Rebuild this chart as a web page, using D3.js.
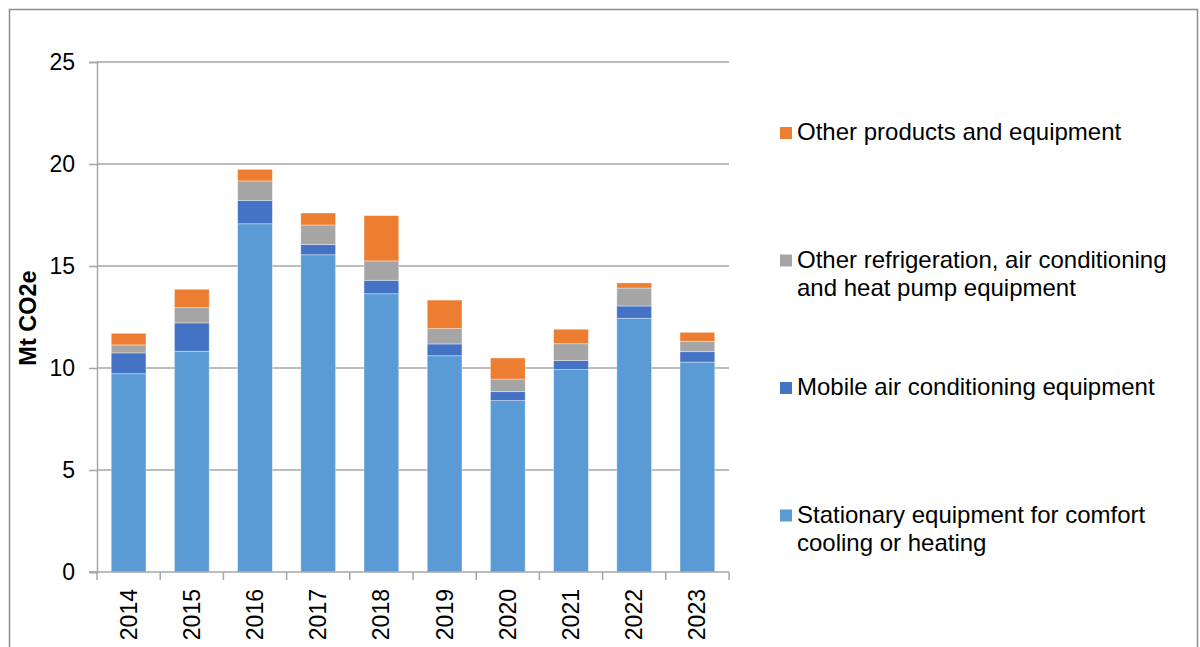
<!DOCTYPE html>
<html>
<head>
<meta charset="utf-8">
<script src="https://cdn.jsdelivr.net/npm/d3@7"></script>
<style>
  body { margin: 0; background: #fff; }
  text { font-family: "Liberation Sans", Arial, sans-serif; }
</style>
</head>
<body>
<div id="chart"></div>
<script>
// data (Mt CO2e)
const years = ["2014", "2015", "2016", "2017", "2018", "2019", "2020", "2021", "2022", "2023"];
const stationary = [9.72, 10.82, 17.07, 15.55, 13.64, 10.60, 8.40, 9.92, 12.44, 10.29];
const mobile = [1.02, 1.39, 1.15, 0.51, 0.66, 0.58, 0.44, 0.44, 0.60, 0.51];
const otherRefrigeration = [0.39, 0.75, 0.95, 0.95, 0.95, 0.75, 0.62, 0.83, 0.88, 0.51];
const otherProducts = [0.57, 0.90, 0.57, 0.59, 2.22, 1.40, 1.03, 0.71, 0.25, 0.44];
const yTicks = [0, 5, 10, 15, 20, 25];

const seriesKeys = ["stationary", "mobile", "otherRefrigeration", "otherProducts"];
const seriesColors = ["#5b9bd5", "#4472c4", "#a5a5a5", "#ed7d31"];
// legend is listed top to bottom in reverse stack order
const legendLabels = [
    ["Other products and equipment"],
    ["Other refrigeration, air conditioning", "and heat pump equipment"],
    ["Mobile air conditioning equipment"],
    ["Stationary equipment for comfort", "cooling or heating"]
];
const legendColors = ["#ed7d31", "#a5a5a5", "#4472c4", "#5b9bd5"];

const width = 1200;
const height = 647;
const plot = { left: 97, right: 729, top: 62, bottom: 572 };

const table = years.map((y, i) => ({
    year: y,
    stationary: stationary[i],
    mobile: mobile[i],
    otherRefrigeration: otherRefrigeration[i],
    otherProducts: otherProducts[i]
}));

const svg = d3.select("#chart").append("svg")
    .attr("width", width)
    .attr("height", height);

// outer frame
svg.append("rect")
    .attr("x", 9.5).attr("y", 9.5)
    .attr("width", 1188).attr("height", 680)
    .attr("fill", "none")
    .attr("stroke", "#8c8c8c")
    .attr("stroke-width", 1.5);

const x = d3.scaleBand()
    .domain(years)
    .range([plot.left, plot.right])
    .paddingInner(0.45)
    .paddingOuter(0.225);

const y = d3.scaleLinear()
    .domain([0, 25])
    .range([plot.bottom, plot.top]);

// gridlines
svg.append("g")
    .selectAll("line")
    .data(yTicks.filter(t => t > 0))
    .enter()
    .append("line")
    .attr("x1", plot.left)
    .attr("x2", plot.right)
    .attr("y1", d => y(d))
    .attr("y2", d => y(d))
    .attr("stroke", "#a6a6a6")
    .attr("stroke-width", 1.5);

// stacked bars
const stacked = d3.stack().keys(seriesKeys)(table);

svg.append("g")
    .selectAll("g")
    .data(stacked)
    .enter()
    .append("g")
    .attr("fill", (d, i) => seriesColors[i])
    .selectAll("rect")
    .data(d => d)
    .enter()
    .append("rect")
    .attr("x", d => x(d.data.year))
    .attr("width", x.bandwidth())
    .attr("y", d => y(d[1]))
    .attr("height", d => y(d[0]) - y(d[1]))
    .attr("stroke", "#ffffff")
    .attr("stroke-opacity", 0.5)
    .attr("stroke-width", 0.75);

// y axis
const yAxis = svg.append("g")
    .attr("transform", `translate(${plot.left},0)`)
    .call(d3.axisLeft(y).tickValues(yTicks).tickSize(8).tickPadding(14));
yAxis.select(".domain").attr("stroke", "#a6a6a6").attr("stroke-width", 1.5);
yAxis.selectAll(".tick line").attr("stroke", "#a6a6a6").attr("stroke-width", 1.5);
yAxis.selectAll(".tick text")
    .attr("font-size", 23)
    .attr("fill", "#000")
    .style("font-family", "'Liberation Sans', Arial, sans-serif");

// x axis: line plus ticks at category boundaries
const step = x.step();
const boundaries = d3.range(years.length + 1).map(i => plot.left + i * step);
const xAxis = svg.append("g");
xAxis.append("line")
    .attr("x1", plot.left - 8).attr("x2", plot.right)
    .attr("y1", plot.bottom).attr("y2", plot.bottom)
    .attr("stroke", "#a6a6a6").attr("stroke-width", 1.5);
xAxis.selectAll(".xtick")
    .data(boundaries)
    .enter()
    .append("line")
    .attr("class", "xtick")
    .attr("x1", d => d).attr("x2", d => d)
    .attr("y1", plot.bottom).attr("y2", plot.bottom + 8)
    .attr("stroke", "#a6a6a6").attr("stroke-width", 1.5);
xAxis.selectAll(".xlabel")
    .data(years)
    .enter()
    .append("text")
    .attr("class", "xlabel")
    .attr("transform", d => `translate(${x(d) + x.bandwidth() / 2 + 8},${plot.bottom + 17}) rotate(-90)`)
    .attr("text-anchor", "end")
    .attr("font-size", 23)
    .attr("fill", "#000")
    .text(d => d);

// y axis title
svg.append("text")
    .attr("transform", `translate(36,318) rotate(-90)`)
    .attr("text-anchor", "middle")
    .attr("font-size", 23.5)
    .attr("font-weight", "bold")
    .attr("fill", "#000")
    .text("Mt CO2e");

// legend
const legend = svg.append("g");
const legendItems = legend.selectAll("g")
    .data(legendLabels)
    .enter()
    .append("g")
    .attr("transform", (d, i) => `translate(780,${140 + i * 127.5})`);

legendItems.append("rect")
    .attr("x", 0).attr("y", -13)
    .attr("width", 12).attr("height", 12)
    .attr("fill", (d, i) => legendColors[i]);

legendItems.append("text")
    .attr("x", 17)
    .attr("y", 0)
    .attr("font-size", 24)
    .attr("fill", "#000")
    .selectAll("tspan")
    .data(d => d)
    .enter()
    .append("tspan")
    .attr("x", 17)
    .attr("dy", (d, i) => i === 0 ? 0 : 28)
    .text(d => d);
</script>
</body>
</html>
